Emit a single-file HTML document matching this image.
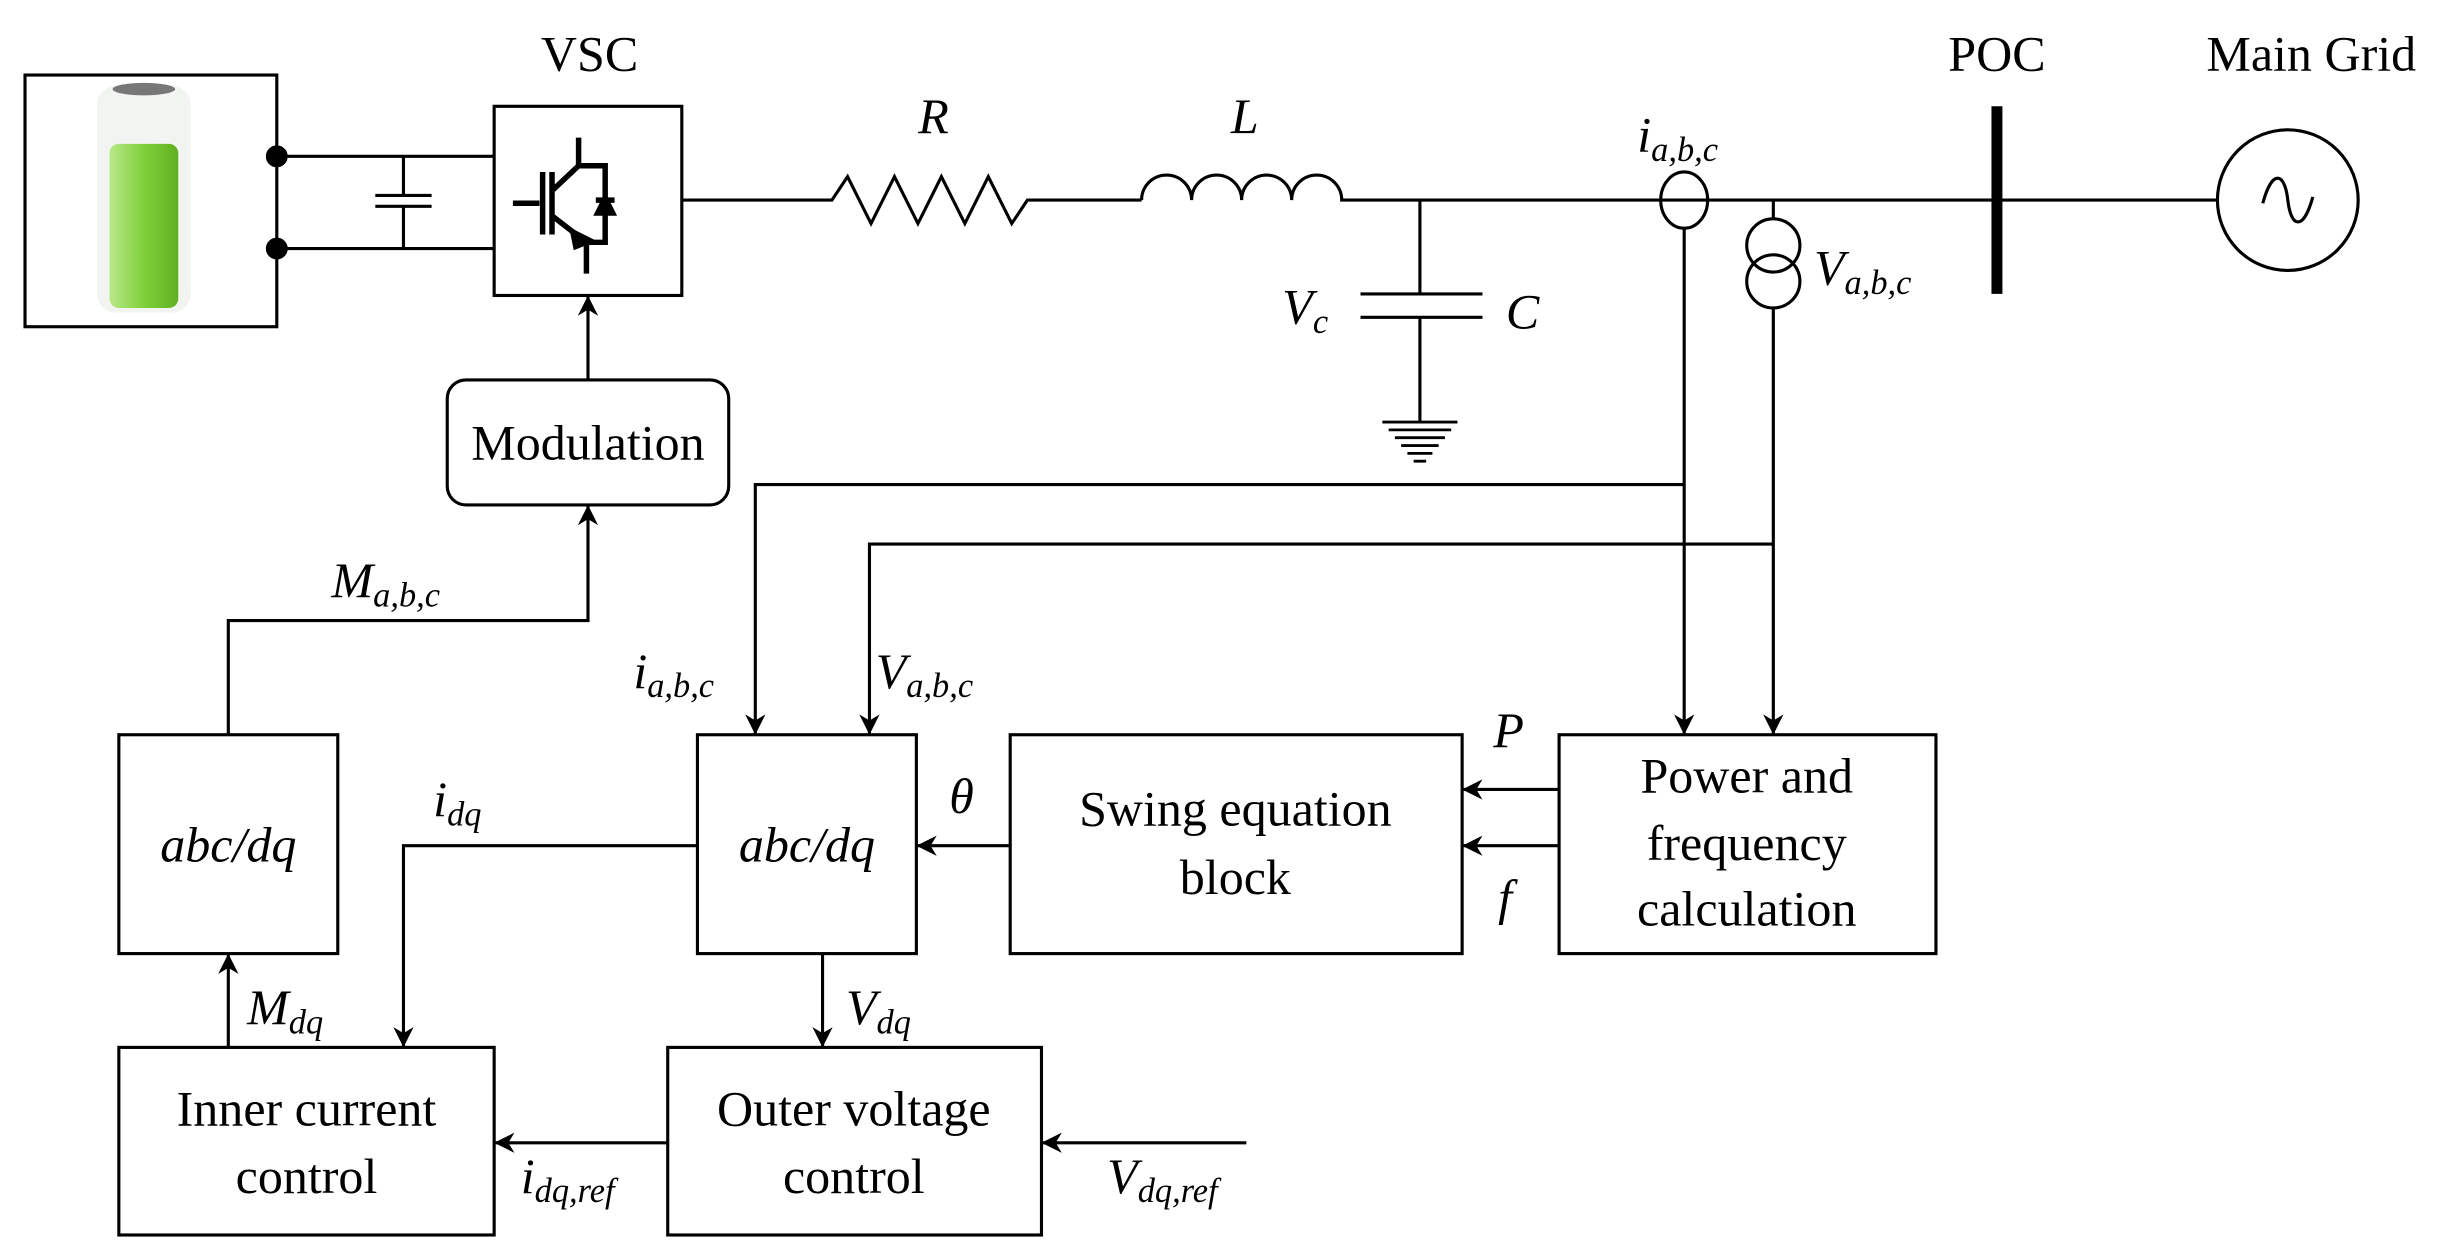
<!DOCTYPE html>
<html><head><meta charset="utf-8"><style>
html,body{margin:0;padding:0;background:#fff;}
svg{display:block;}
text{font-family:"Liberation Serif",serif;fill:#000;}
.m{font-style:italic;}
</style></head><body>
<svg width="2452" height="1260" viewBox="0 0 1568 806" preserveAspectRatio="none" xmlns="http://www.w3.org/2000/svg">
<defs>
<marker id="a" viewBox="0 0 10 10" refX="10" refY="5" markerWidth="17" markerHeight="13" markerUnits="userSpaceOnUse" orient="auto"><path d="M0,0 L10,5 L0,10 L3,5 Z" fill="#000"/></marker>
<linearGradient id="g" x1="0" x2="1"><stop offset="0" stop-color="#b8e88a"/><stop offset="0.5" stop-color="#7fd13a"/><stop offset="1" stop-color="#5fb020"/></linearGradient>
</defs>
<g stroke="#000" stroke-width="2" fill="none">
<rect x="16" y="48" width="161" height="161"/>
<rect x="62" y="55" width="60" height="145" rx="12" fill="#f2f4f2" stroke="none"/>
<ellipse cx="92" cy="57" rx="20" ry="4" fill="#777" stroke="none"/>
<rect x="70" y="92" width="44" height="105" rx="6" fill="url(#g)" stroke="none"/>
<circle cx="177" cy="100" r="6" fill="#000"/>
<circle cx="177" cy="159" r="6" fill="#000"/>
<path d="M177 100H316M177 159H316M258 100V125M258 132V159M240 125H276M240 132H276"/>
<rect x="316" y="68" width="120" height="121"/>
<g stroke-width="3.5">
<path d="M328 130H345M347 110V150M353 110V150M353 122L370 106V88M353 138L375 155V175M370 106H387V155H375"/>
<path d="M381 128H393"/>
</g>
<path d="M381 137L387 125L393 137Z" fill="#000"/>
<path d="M366 148L378 154L368 158Z" fill="#000" stroke-width="3"/>
<path d="M436 128H532L542 113L557 143L572 113L587 143L602 113L617 143L632 113L647 143L657 128H730"/>
<path d="M730 128A16 16 0 0 1 762 128A16 16 0 0 1 794 128A16 16 0 0 1 826 128A16 16 0 0 1 858 128H1418"/>
<circle cx="1463" cy="128" r="45"/>
<path d="M1447 130C1453 108 1461 110 1463 128C1465 146 1473 148 1479 126"/>
<path d="M1277 68V188" stroke-width="7"/>
<path d="M908 128V188M908 203V270M870 188H948M870 203H948" />
<path d="M884 270H932M888 275H928M892 280H924M896 285H920M900 290H916M904 295H912" stroke-width="1.8"/>
<ellipse cx="1077" cy="128" rx="15" ry="18" fill="#fff"/>
<path d="M1062 128H1092" />
<circle cx="1134" cy="157" r="17"/>
<circle cx="1134" cy="180" r="17"/>
<path d="M1134 128V140"/>
<path d="M1077 146V470" marker-end="url(#a)"/>
<path d="M1134 197V470" marker-end="url(#a)"/>
<path d="M1077 310H483V470" marker-end="url(#a)"/>
<path d="M1134 348H556V470" marker-end="url(#a)"/>
<rect x="286" y="243" width="180" height="80" rx="12"/>
<path d="M376 243V189" marker-end="url(#a)"/>
<path d="M146 470V397H376V323" marker-end="url(#a)"/>
<rect x="76" y="470" width="140" height="140"/>
<rect x="446" y="470" width="140" height="140"/>
<rect x="646" y="470" width="289" height="140"/>
<rect x="997" y="470" width="241" height="140"/>
<rect x="76" y="670" width="240" height="120"/>
<rect x="427" y="670" width="239" height="120"/>
<path d="M997 505H935" marker-end="url(#a)"/>
<path d="M997 541H935" marker-end="url(#a)"/>
<path d="M646 541H586" marker-end="url(#a)"/>
<path d="M446 541H258V670" marker-end="url(#a)"/>
<path d="M526 610V670" marker-end="url(#a)"/>
<path d="M427 731H316" marker-end="url(#a)"/>
<path d="M797 731H666" marker-end="url(#a)"/>
<path d="M146 670V610" marker-end="url(#a)"/>
</g>
<g font-size="32">
<text x="377" y="45" text-anchor="middle">VSC</text>
<text x="1277" y="45" text-anchor="middle">POC</text>
<text x="1478" y="45" text-anchor="middle">Main Grid</text>
<text x="597" y="85" text-anchor="middle" class="m">R</text>
<text x="796" y="85" text-anchor="middle" class="m">L</text>
<text x="820" y="207" class="m">V<tspan font-size="22" dy="6">c</tspan></text>
<text x="963" y="210" class="m">C</text>
<text x="1047" y="97" class="m">i<tspan font-size="22" dy="6">a,b,c</tspan></text>
<text x="1160" y="182" class="m">V<tspan font-size="22" dy="6">a,b,c</tspan></text>
<text x="376" y="294" text-anchor="middle">Modulation</text>
<text x="212" y="382" class="m">M<tspan font-size="22" dy="6">a,b,c</tspan></text>
<text x="405" y="440" class="m">i<tspan font-size="22" dy="6">a,b,c</tspan></text>
<text x="560" y="440" class="m">V<tspan font-size="22" dy="6">a,b,c</tspan></text>
<text x="146" y="551" text-anchor="middle" class="m">abc/dq</text>
<text x="516" y="551" text-anchor="middle" class="m">abc/dq</text>
<text x="790" y="528" text-anchor="middle">Swing equation</text>
<text x="790" y="572" text-anchor="middle">block</text>
<text x="1117" y="507" text-anchor="middle">Power and</text>
<text x="1117" y="550" text-anchor="middle">frequency</text>
<text x="1117" y="592" text-anchor="middle">calculation</text>
<text x="955" y="478" class="m">P</text>
<text x="958" y="585" class="m">f</text>
<text x="607" y="520" class="m">θ</text>
<text x="277" y="522" class="m">i<tspan font-size="22" dy="6">dq</tspan></text>
<text x="541" y="655" class="m">V<tspan font-size="22" dy="6">dq</tspan></text>
<text x="158" y="655" class="m">M<tspan font-size="22" dy="6">dq</tspan></text>
<text x="196" y="720" text-anchor="middle">Inner current</text>
<text x="196" y="763" text-anchor="middle">control</text>
<text x="546" y="720" text-anchor="middle">Outer voltage</text>
<text x="546" y="763" text-anchor="middle">control</text>
<text x="333" y="763" class="m">i<tspan font-size="22" dy="6">dq,ref</tspan></text>
<text x="708" y="763" class="m">V<tspan font-size="22" dy="6">dq,ref</tspan></text>
</g>
</svg>
</body></html>
